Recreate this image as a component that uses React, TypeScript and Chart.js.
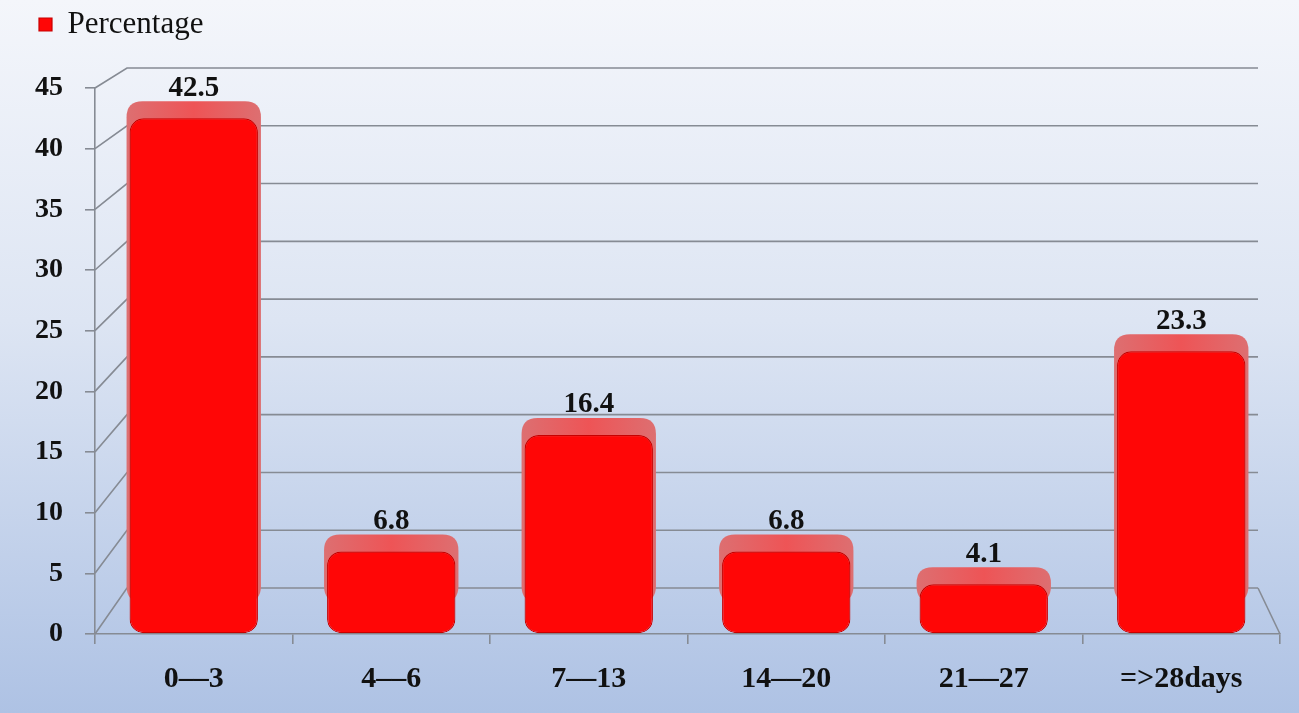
import { useEffect, useRef } from "react";
import { Chart, registerables } from "chart.js";

Chart.register(...registerables);

const categories = ["0––3", "4––6", "7––13", "14––20", "21––27", "=>28days"];
const percentages = [42.5, 6.8, 16.4, 6.8, 4.1, 23.3];
const seriesLabel = "Percentage";
const yMin = 0;
const yMax = 45;
const yStep = 5;

const FONT = "'Liberation Serif', 'Times New Roman', serif";
const GRID = "#868b94";

function roundRectPath(ctx: CanvasRenderingContext2D, x: number, y: number, w: number, h: number, r: number) {
  const rr = Math.min(r, w / 2, h / 2);
  ctx.beginPath();
  ctx.moveTo(x + rr, y);
  ctx.lineTo(x + w - rr, y);
  ctx.quadraticCurveTo(x + w, y, x + w, y + rr);
  ctx.lineTo(x + w, y + h - rr);
  ctx.quadraticCurveTo(x + w, y + h, x + w - rr, y + h);
  ctx.lineTo(x + rr, y + h);
  ctx.quadraticCurveTo(x, y + h, x, y + h - rr);
  ctx.lineTo(x, y + rr);
  ctx.quadraticCurveTo(x, y, x + rr, y);
  ctx.closePath();
}

const legendSpacer = {
  id: "legendSpacer",
  beforeInit(chart: any) {
    const lg = chart.legend;
    if (!lg) return;
    const orig = lg.fit;
    lg.fit = function () {
      orig.call(this);
      this.height += 38;
    };
  },
};

const wall3d = {
  id: "wall3d",
  beforeDatasetsDraw(chart: any) {
    const { ctx, chartArea, scales } = chart;
    const { left, right, top, bottom } = chartArea;
    const y = scales.y;
    const backTop = top - 20;
    const backBottom = bottom - 46;
    const bx0 = left + 32;
    const bx1 = right - 22;
    const mapBack = (py: number) => backTop + ((py - top) * (backBottom - backTop)) / (bottom - top);
    ctx.save();
    ctx.strokeStyle = GRID;
    ctx.lineWidth = 1.6;
    y.ticks.forEach((t: any) => {
      const py = y.getPixelForValue(t.value);
      const by = mapBack(py);
      ctx.beginPath();
      ctx.moveTo(left, py);
      ctx.lineTo(bx0, by);
      ctx.lineTo(bx1, by);
      ctx.stroke();
    });
    ctx.beginPath();
    ctx.moveTo(bx1, backBottom);
    ctx.lineTo(right, bottom);
    ctx.stroke();

    // back/top faces of the bars
    const meta = chart.getDatasetMeta(0);
    meta.data.forEach((bar: any) => {
      const p = bar.getProps(["x", "y", "base", "width"], true);
      const w = p.width + 6;
      const h = Math.max(p.base - p.y - 14, 20);
      roundRectPath(ctx, p.x - w / 2, p.y - 17, w, h, 16);
      const g = ctx.createLinearGradient(p.x - w / 2, 0, p.x + w / 2, 0);
      g.addColorStop(0, "#dd6f71");
      g.addColorStop(0.5, "#ee5456");
      g.addColorStop(1, "#dd6f71");
      ctx.fillStyle = g;
      ctx.fill();
    });
    ctx.restore();
  },
};

const valueLabels = {
  id: "valueLabels",
  afterDatasetsDraw(chart: any) {
    const { ctx } = chart;
    const meta = chart.getDatasetMeta(0);
    ctx.save();
    ctx.font = `bold 29px ${FONT}`;
    ctx.fillStyle = "#111";
    ctx.textAlign = "center";
    ctx.textBaseline = "middle";
    meta.data.forEach((bar: any, i: number) => {
      const p = bar.getProps(["x", "y"], true);
      ctx.fillText(String(percentages[i]), p.x, p.y - 30);
    });
    ctx.restore();
  },
};

export default function App() {
  const ref = useRef<HTMLCanvasElement | null>(null);

  useEffect(() => {
    if (!ref.current) return;
    const chart = new Chart(ref.current, {
      type: "bar",
      data: {
        labels: categories,
        datasets: [
          {
            label: seriesLabel,
            data: percentages,
            backgroundColor: "#ff0606",
            borderColor: "#c80000",
            borderWidth: 1.2,
            borderRadius: 14,
            borderSkipped: false,
            barPercentage: 0.65,
            categoryPercentage: 1,
          },
        ],
      },
      options: {
        responsive: true,
        maintainAspectRatio: false,
        animation: false,
        layout: { padding: { left: 30, right: 19, top: 0, bottom: 0 } },
        plugins: {
          legend: {
            position: "top",
            align: "start",
            labels: {
              boxWidth: 13,
              boxHeight: 13,
              padding: 9,
              color: "#111",
              font: { family: FONT, size: 31 },
            },
          },
          tooltip: { enabled: false },
        },
        scales: {
          x: {
            grid: { drawOnChartArea: false, drawTicks: true, tickLength: 10, color: GRID, lineWidth: 1.6 },
            border: { display: true, color: GRID, width: 1.6 },
            ticks: { color: "#111", padding: 17, font: { family: FONT, size: 30, weight: "bold" } },
            afterFit(scale: any) {
              scale.height = 79;
            },
          },
          y: {
            min: yMin,
            max: yMax,
            ticks: { stepSize: yStep, color: "#111", padding: 22, font: { family: FONT, size: 28, weight: "bold" } },
            grid: { drawOnChartArea: false, drawTicks: true, tickLength: 10, color: GRID, lineWidth: 1.6 },
            border: { display: true, color: GRID, width: 1.6 },
            afterFit(scale: any) {
              scale.width = 65;
            },
          },
        },
      },
      plugins: [legendSpacer, wall3d, valueLabels],
    } as any);
    return () => chart.destroy();
  }, []);

  return (
    <div
      style={{
        position: "fixed",
        left: 0,
        top: 0,
        width: 1299,
        height: 713,
        background: "linear-gradient(to bottom, #f4f6fb 0%, #dde5f3 45%, #aec2e4 100%)",
      }}
    >
      <canvas ref={ref} />
    </div>
  );
}
